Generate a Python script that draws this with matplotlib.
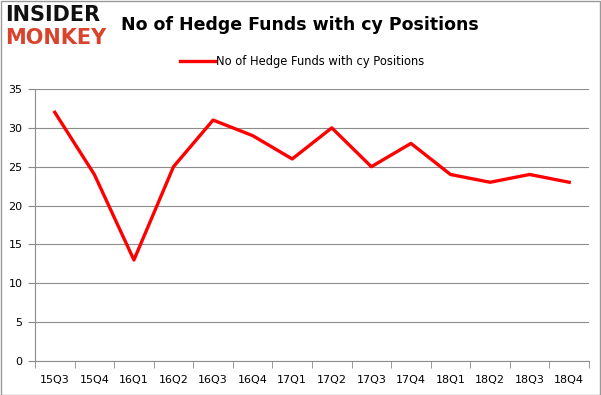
import matplotlib.pyplot as plt
import numpy as np

# data
quarters = ["15Q3", "15Q4", "16Q1", "16Q2", "16Q3", "16Q4", "17Q1", "17Q2",
            "17Q3", "17Q4", "18Q1", "18Q2", "18Q3", "18Q4"]
funds = [32, 24, 13, 25, 31, 29, 26, 30, 25, 28, 24, 23, 24, 23]
y_ticks = [0, 5, 10, 15, 20, 25, 30, 35]
label = "No of Hedge Funds with cy Positions"

fig = plt.figure(figsize=(6.01, 3.95), dpi=100)
ax = fig.add_axes([35 / 601, 1 - 361 / 395, 554 / 601, (361 - 89) / 395])

x = np.arange(len(quarters))
ax.plot(x, funds, color="#ff0000", linewidth=2.4, label=label)

ax.set_xlim(-0.5, len(quarters) - 0.5)
ax.set_ylim(0, 35)
ax.set_yticks(y_ticks)
ax.set_yticklabels([str(v) for v in y_ticks], fontsize=8)
ax.set_xticks(x)
ax.set_xticklabels(quarters, fontsize=8)
# ticks between the categories, like Excel
ax.set_xticks(np.arange(-0.5, len(quarters) + 0.5, 1), minor=True)
ax.tick_params(axis="x", which="major", length=0, pad=10)
ax.tick_params(axis="x", which="minor", length=5, color="#888888")
ax.tick_params(axis="y", length=5, color="#888888", pad=4)

ax.grid(axis="y", color="#8c8c8c", linewidth=0.8)
ax.set_axisbelow(True)
for s in ["top", "right"]:
    ax.spines[s].set_visible(False)
for s in ["left", "bottom"]:
    ax.spines[s].set_color("#8c8c8c")

leg = fig.legend(loc="center", bbox_to_anchor=(302 / 601, 1 - 62 / 395), frameon=False,
                 fontsize=8.3, handlelength=3.0, handletextpad=0.1)

fig.text(300 / 601, 1 - 25 / 395, "No of Hedge Funds with cy Positions", ha="center",
         va="center", fontsize=12.5, fontweight="bold")
fig.text(0.008, 1 - 15 / 395, "INSIDER", ha="left", va="center", fontsize=15,
         fontweight="heavy", color="#111111")
fig.text(0.008, 1 - 38 / 395, "MONKEY", ha="left", va="center", fontsize=15,
         fontweight="heavy", color="#d9422b")

# border around the figure
fig.patches.append(plt.Rectangle((0.001, 0.001), 0.997, 0.997, transform=fig.transFigure,
                                 fill=False, edgecolor="#999999", linewidth=1))

fig.savefig("out.png", dpi=100)
